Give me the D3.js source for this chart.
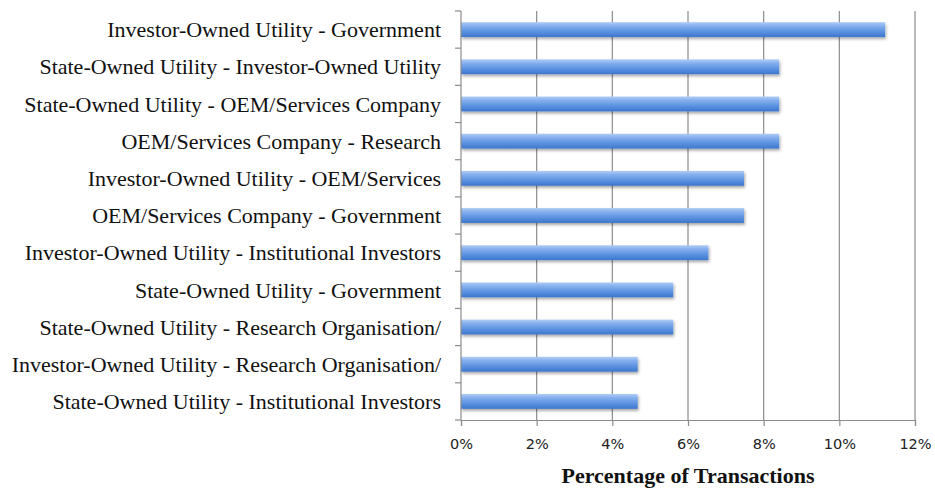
<!DOCTYPE html>
<html>
<head>
<meta charset="utf-8">
<script src="https://cdn.jsdelivr.net/npm/d3@7"></script>
<style>
  html, body { margin: 0; padding: 0; background: #fff; }
  svg { display: block; }
</style>
</head>
<body>
<svg id="chart" width="935" height="490"></svg>
<script>
// Partnership pairs, top to bottom
const categories = [
  "Investor-Owned Utility - Government",
  "State-Owned Utility - Investor-Owned Utility",
  "State-Owned Utility - OEM/Services Company",
  "OEM/Services Company - Research",
  "Investor-Owned Utility - OEM/Services",
  "OEM/Services Company - Government",
  "Investor-Owned Utility - Institutional Investors",
  "State-Owned Utility - Government",
  "State-Owned Utility - Research Organisation/",
  "Investor-Owned Utility - Research Organisation/",
  "State-Owned Utility - Institutional Investors"
];
// Share of transactions (%)
const values = [11.21, 8.41, 8.41, 8.41, 7.48, 7.48, 6.54, 5.61, 5.61, 4.67, 4.67];
const xTicks = [0, 2, 4, 6, 8, 10, 12];
const xTitle = "Percentage of Transactions";

const svg = d3.select("#chart");
const margin = { left: 461, right: 20, top: 11, bottom: 70 };
const plotW = 915 - margin.left;
const plotH = 420 - margin.top;

const x = d3.scaleLinear().domain([0, 12]).range([0, plotW]);
const y = d3.scaleBand().domain(categories).range([0, plotH]).paddingInner(0.6).paddingOuter(0.3);
const yEdges = d3.range(categories.length + 1).map(i => i * plotH / categories.length);

const defs = svg.append("defs");
const grad = defs.append("linearGradient")
  .attr("id", "barGrad").attr("x1", 0).attr("y1", 0).attr("x2", 0).attr("y2", 1);
grad.append("stop").attr("offset", "0%").attr("stop-color", "#b0cdf6");
grad.append("stop").attr("offset", "25%").attr("stop-color", "#86b0ee");
grad.append("stop").attr("offset", "60%").attr("stop-color", "#5f94e2");
grad.append("stop").attr("offset", "100%").attr("stop-color", "#3c76cc");

const shadow = defs.append("filter").attr("id", "barShadow")
  .attr("x", "-5%").attr("y", "-30%").attr("width", "110%").attr("height", "180%");
shadow.append("feGaussianBlur").attr("in", "SourceAlpha").attr("stdDeviation", 1.5).attr("result", "blur");
shadow.append("feOffset").attr("in", "blur").attr("dx", 1).attr("dy", 2).attr("result", "off");
shadow.append("feComponentTransfer").attr("in", "off").attr("result", "shade")
  .append("feFuncA").attr("type", "linear").attr("slope", 0.35);
const merge = shadow.append("feMerge");
merge.append("feMergeNode").attr("in", "shade");
merge.append("feMergeNode").attr("in", "SourceGraphic");

const g = svg.append("g").attr("transform", `translate(${margin.left},${margin.top})`);

// vertical gridlines
g.append("g").selectAll("line").data(xTicks.slice(1)).join("line")
  .attr("x1", d => x(d)).attr("x2", d => x(d))
  .attr("y1", 0).attr("y2", plotH)
  .attr("stroke", "#8c8c8c").attr("stroke-width", 1.2);

// bars
g.append("g").selectAll("rect").data(values).join("rect")
  .attr("x", 0)
  .attr("y", (d, i) => y(categories[i]))
  .attr("width", d => x(d))
  .attr("height", y.bandwidth())
  .attr("fill", "url(#barGrad)")
  .attr("filter", "url(#barShadow)");

// y axis line with ticks at category boundaries
g.append("line").attr("x1", 0).attr("x2", 0).attr("y1", 0).attr("y2", plotH)
  .attr("stroke", "#8c8c8c").attr("stroke-width", 1.2);
g.append("g").selectAll("line").data(yEdges).join("line")
  .attr("x1", -6).attr("x2", 0)
  .attr("y1", d => d).attr("y2", d => d)
  .attr("stroke", "#8c8c8c").attr("stroke-width", 1.2);

// category labels
g.append("g").selectAll("text").data(categories).join("text")
  .attr("x", -20)
  .attr("y", d => y(d) + y.bandwidth() / 2)
  .attr("dy", "0.35em")
  .attr("text-anchor", "end")
  .attr("font-family", "'Liberation Serif', 'Times New Roman', serif")
  .attr("font-size", 22)
  .attr("fill", "#111")
  .text(d => d);

// x axis
const xAxis = g.append("g").attr("transform", `translate(0,${plotH})`)
  .call(d3.axisBottom(x).tickValues(xTicks).tickFormat(d => d + "%").tickSize(6).tickPadding(13));
xAxis.select(".domain").attr("stroke", "#8c8c8c").attr("stroke-width", 1.2);
xAxis.selectAll(".tick line").attr("stroke", "#8c8c8c").attr("stroke-width", 1.2);
xAxis.selectAll(".tick text")
  .attr("font-family", "'DejaVu Sans', 'Open Sans', sans-serif")
  .attr("font-size", 14.5)
  .attr("fill", "#222");

// x axis title
svg.append("text")
  .attr("x", margin.left + plotW / 2)
  .attr("y", 483)
  .attr("text-anchor", "middle")
  .attr("font-family", "'Liberation Serif', 'Times New Roman', serif")
  .attr("font-weight", "bold")
  .attr("font-size", 22)
  .attr("fill", "#111")
  .text(xTitle);
</script>
</body>
</html>
